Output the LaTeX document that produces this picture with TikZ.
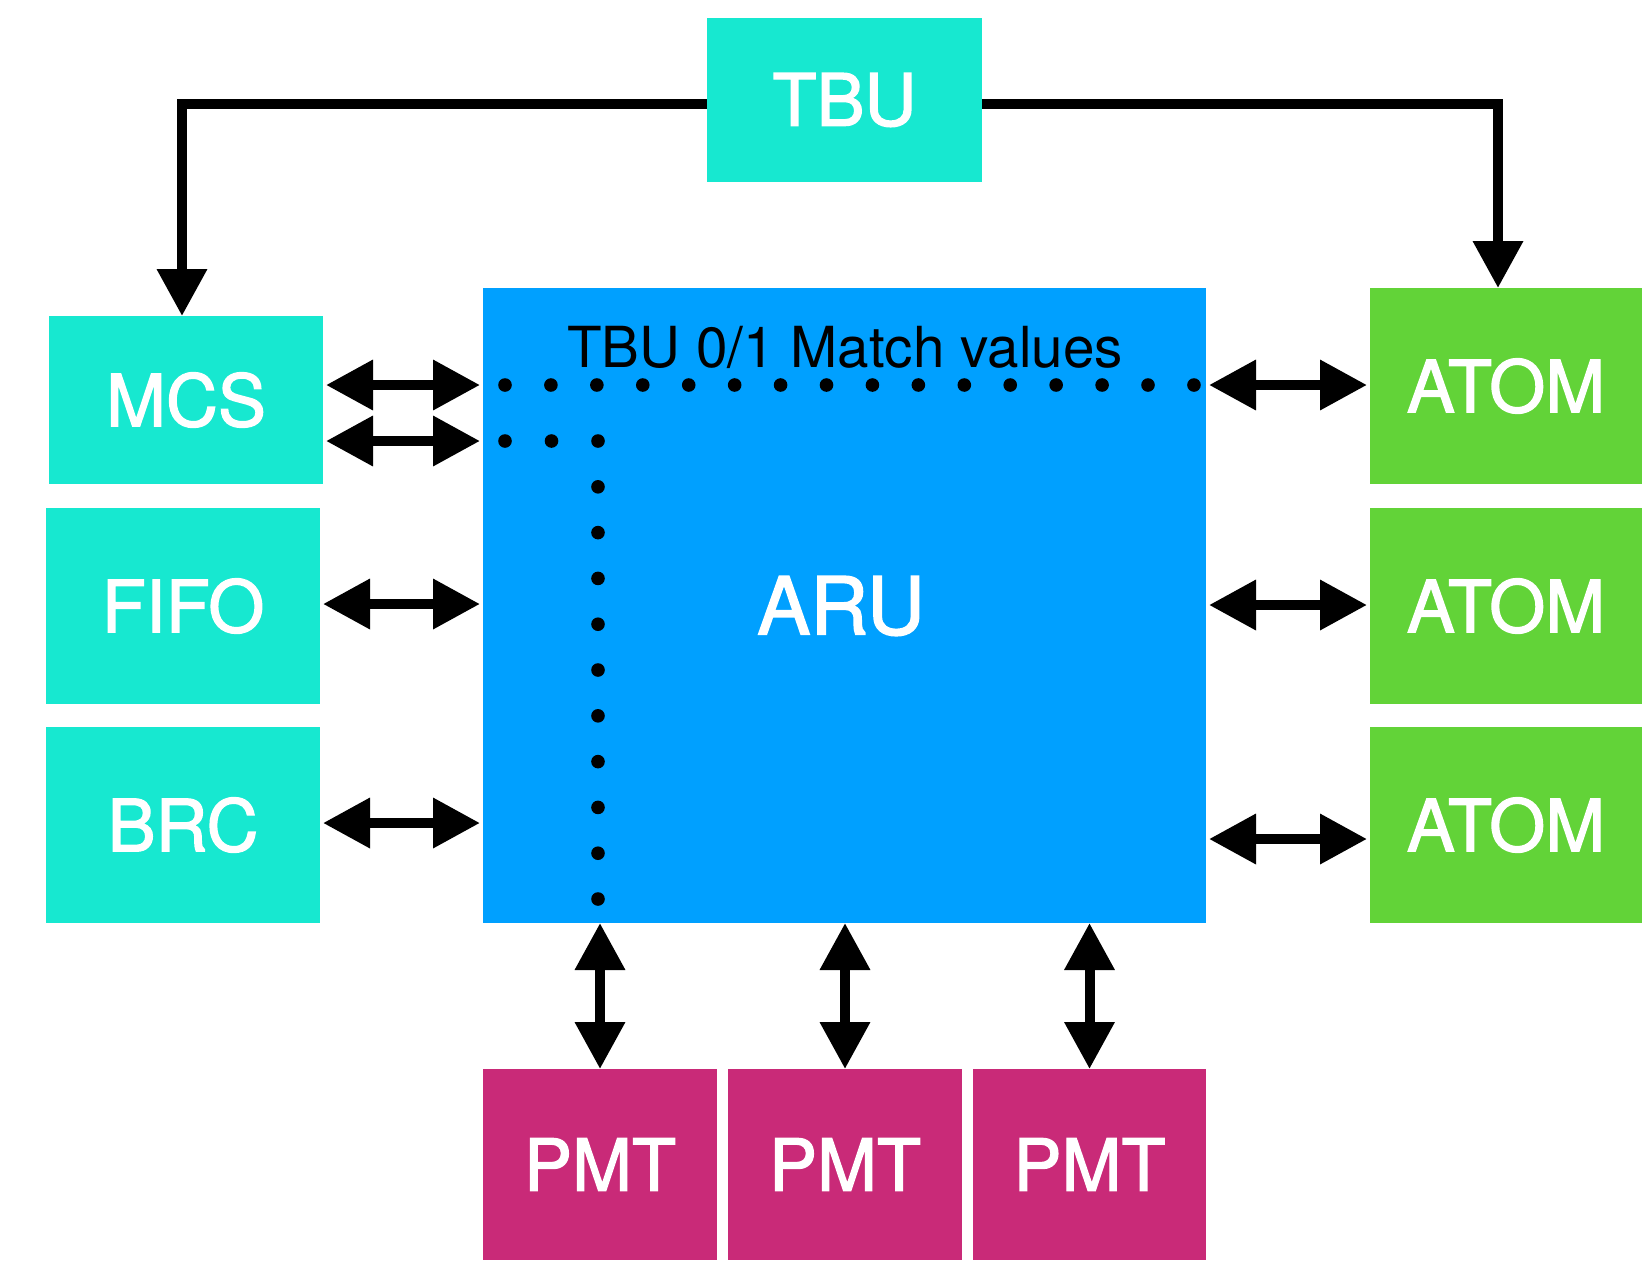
\documentclass[tikz,border=0pt]{standalone}
\usepackage{fontspec}
\setmainfont{TeX Gyre Heros}
\newfontfamily\labelfont{TeX Gyre Heros}[FakeBold=1.8]
\usetikzlibrary{arrows.meta}
\definecolor{tealbox}{HTML}{17E8D0}
\definecolor{arublue}{HTML}{00A0FF}
\definecolor{atomgreen}{HTML}{62D338}
\definecolor{pmtred}{HTML}{C92A78}
\begin{document}
\begin{tikzpicture}[x=0.5pt,y=-0.5pt,
  blk/.style={rectangle, inner sep=0pt, outer sep=0pt, text=white,
    font=\labelfont\fontsize{36}{40}\selectfont},
  sidebox/.style={blk, fill=tealbox, minimum width=137pt, minimum height=98pt},
  atombox/.style={blk, fill=atomgreen, minimum width=136pt, minimum height=98pt},
  pmtbox/.style={blk, fill=pmtred, minimum width=117pt, minimum height=95.5pt},
  tip/.tip={Triangle[length=23.5pt,width=24pt]},
  dbl/.style={line width=5pt, tip-tip},
  oneway/.style={line width=5pt, line join=miter, -tip},
  dotmark/.style={fill=black}
]
\useasboundingbox (0,0) rectangle (1650,1260);

% blocks
\node[blk, fill=tealbox, minimum width=137.5pt, minimum height=82pt] (tbu) at (844.5,100) {TBU};
\node[blk, fill=tealbox, minimum width=137pt, minimum height=84pt] (mcs) at (186,400) {MCS};
\node[sidebox] (fifo) at (183,606) {FIFO};
\node[sidebox] (brc) at (183,825) {BRC};
\node[blk, fill=arublue, minimum width=361.5pt, minimum height=317.5pt] (aru) at (844.5,605.5) {};
\node[blk, font=\labelfont\fontsize{40}{44}\selectfont] (arulabel) at (841,606) {ARU};
\node[inner sep=0pt, anchor=base, font=\fontsize{28.3}{32}\selectfont] (match) at (845,367) {TBU 0/1 Match values};
\node[atombox] (atom1) at (1506,386) {ATOM};
\node[atombox] (atom2) at (1506,606) {ATOM};
\node[atombox] (atom3) at (1506,825) {ATOM};
\node[pmtbox] (pmt1) at (600,1164.5) {PMT};
\node[pmtbox] (pmt2) at (845,1164.5) {PMT};
\node[pmtbox, minimum width=116.5pt] (pmt3) at (1089.5,1164.5) {PMT};

% match-value dot lines inside the ARU
\foreach \i in {0,...,15} \fill[dotmark] (505+45.93*\i,385) circle (3.4pt);
\foreach \i in {0,1} \fill[dotmark] (505+46.5*\i,441) circle (3.4pt);
\foreach \k in {0,...,10} \fill[dotmark] (598,441+45.8*\k) circle (3.4pt);

% TBU distribution
\draw[oneway] (tbu.west |- 0,104) -| (mcs.north -| 182,0);
\draw[oneway] (tbu.east |- 0,104) -| (atom1.north -| 1498,0);

% left side links
\draw[dbl, shorten <=1.5pt, shorten >=1.5pt] (mcs.east |- 0,385) -- (aru.west |- 0,385);
\draw[dbl, shorten <=1.5pt, shorten >=1.5pt] (mcs.east |- 0,441) -- (aru.west |- 0,441);
\draw[dbl, shorten <=1.5pt, shorten >=1.5pt] (fifo.east |- 0,604) -- (aru.west |- 0,604);
\draw[dbl, shorten <=1.5pt, shorten >=1.5pt] (brc.east |- 0,823) -- (aru.west |- 0,823);

% right side links
\draw[dbl, shorten <=1.5pt, shorten >=1.5pt] (aru.east |- 0,385) -- (atom1.west |- 0,385);
\draw[dbl, shorten <=1.5pt, shorten >=1.5pt] (aru.east |- 0,605) -- (atom2.west |- 0,605);
\draw[dbl, shorten <=1.5pt, shorten >=1.5pt] (aru.east |- 0,839) -- (atom3.west |- 0,839);

% bottom links
\draw[dbl] (aru.south -| pmt1.north) -- (pmt1.north);
\draw[dbl] (aru.south -| pmt2.north) -- (pmt2.north);
\draw[dbl] (aru.south -| pmt3.north) -- (pmt3.north);
\end{tikzpicture}
\end{document}
